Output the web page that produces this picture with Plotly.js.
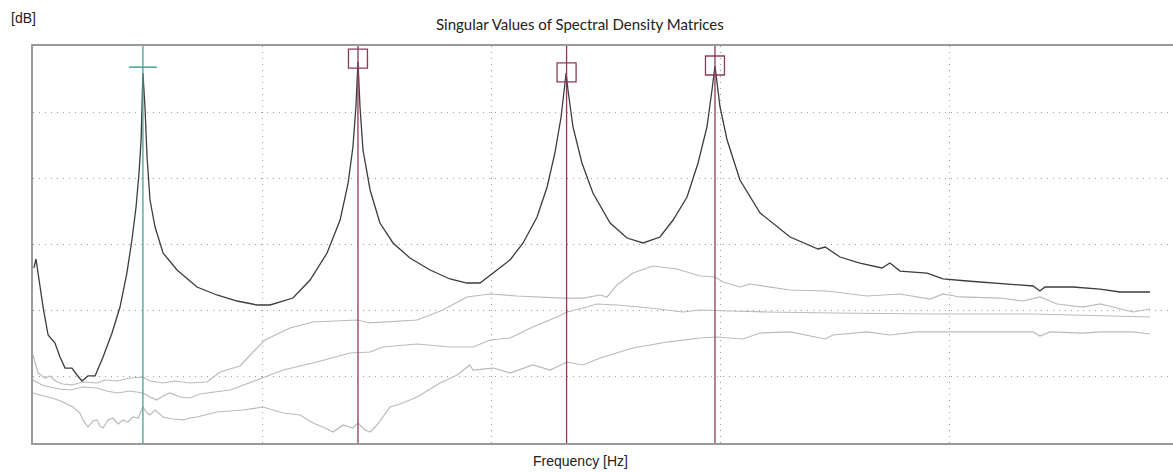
<!DOCTYPE html>
<html>
<head>
<meta charset="utf-8">
<script src="https://cdn.plot.ly/plotly-3.0.1.min.js"></script>
<style>html,body{margin:0;padding:0;background:#fff;}#chart{width:1173px;height:473px;}</style>
</head>
<body>
<div id="chart"></div>
<script>
// First singular value (dark curve)
const sv1Freq = [0.04,0.13,0.44,0.66,0.96,1.18,1.40,1.70,1.92,2.14,2.40,2.71,3.06,3.45,3.80,4.10,4.32,4.50,4.63,4.72,4.76,4.80,4.89,4.98,5.11,5.33,5.68,6.29,7.16,8.03,8.91,9.78,10.35,11.35,12.10,12.84,13.41,13.76,13.97,14.10,14.19,14.28,14.41,14.72,15.15,15.72,16.46,17.34,18.21,18.95,19.52,20.09,20.83,21.40,22.01,22.45,22.79,23.06,23.19,23.28,23.36,23.58,23.97,24.45,25.20,25.94,26.64,27.38,27.95,28.56,29.04,29.43,29.65,29.78,30.0,30.31,30.87,31.75,33.06,34.28,34.59,35.24,36.11,37.07,37.42,37.86,39.04,39.74,40.79,42.10,43.67,43.97,44.19,45.41,46.59,47.47,48.78];
const sv1dB = [26.45,27.81,20.55,16.32,15.11,13.0,11.33,11.33,10.28,9.37,10.13,10.13,13.0,16.62,20.55,25.69,30.68,35.67,40.80,45.79,50.78,55.92,50.78,43.22,36.72,32.64,28.71,26.15,23.58,22.37,21.46,20.86,20.86,21.91,24.63,28.71,33.70,39.29,44.73,50.78,57.58,50.78,44.28,38.24,33.25,30.23,27.96,26.15,24.79,24.18,24.18,25.69,27.66,30.23,34.16,38.69,43.83,49.27,53.35,55.92,53.35,47.76,42.32,37.78,33.25,30.98,30.23,31.13,33.70,37.18,42.32,47.76,53.35,56.98,50.78,45.79,39.75,34.76,31.13,29.32,29.62,28.11,27.20,26.45,27.20,25.99,25.69,24.79,24.48,24.18,23.73,22.97,23.58,23.58,23.27,22.82,22.82];

// Second singular value
const sv2Freq = [0,0.22,0.52,0.74,1.05,1.31,1.70,2.18,2.79,3.14,3.67,4.24,4.80,5.11,5.68,6.20,6.86,7.60,8.17,9.04,9.61,10.13,11.22,12.23,13.19,14.15,14.72,16.77,17.90,18.95,19.96,21.14,23.14,24.02,24.76,25.07,25.50,26.20,27.07,28.12,29.13,29.78,30.13,30.87,31.31,33.06,34.67,36.42,37.86,39.17,39.74,40.48,42.23,43.23,43.97,44.72,45.85,46.59,47.34,48.03,48.78];
const sv2dB = [13.30,10.58,9.82,10.13,9.22,8.92,8.77,9.22,9.07,9.52,9.37,9.82,9.97,9.37,9.07,9.37,9.07,9.22,10.73,11.64,13.75,15.57,17.38,18.29,18.44,18.59,18.14,18.59,20.10,22.07,22.52,22.22,21.91,21.91,22.37,22.07,23.88,25.69,26.75,26.30,25.24,25.09,24.33,23.58,24.03,23.12,22.97,22.22,22.52,21.76,22.52,22.07,21.91,21.46,22.07,21.01,20.55,21.01,20.40,19.80,20.25];

// Third singular value
const sv3Freq = [0,0.39,0.74,1.18,1.62,2.18,2.79,3.23,3.67,4.24,4.80,5.11,5.41,5.68,5.98,6.42,6.86,7.29,7.60,8.60,9.78,10.92,12.40,13.84,14.72,15.28,16.77,18.21,19.21,19.96,20.83,21.83,22.88,23.32,24.02,24.63,25.50,26.94,28.38,29.13,30.44,32.05,34.93,39.30,43.67,46.59,48.78];
const sv3dB = [9.52,8.77,8.46,8.16,8.01,8.46,8.31,7.86,7.56,7.86,7.56,6.95,6.50,7.10,7.56,6.95,6.80,7.41,7.56,8.01,9.52,11.03,12.24,13.60,13.75,14.51,14.96,14.51,14.51,15.57,15.87,17.53,19.04,19.80,20.40,21.01,20.86,20.40,19.80,20.10,19.95,19.80,19.65,19.50,19.50,19.19,19.04];

// Fourth singular value
const sv4Freq = [0,0.52,0.96,1.31,1.75,2.05,2.18,2.40,2.62,2.79,2.93,3.06,3.28,3.49,3.71,3.93,4.15,4.37,4.59,4.80,4.98,5.11,5.33,5.68,6.11,6.55,6.86,7.16,8.03,9.17,10.04,10.92,11.66,12.23,12.66,13.10,13.54,13.97,14.19,14.50,14.72,15.02,15.28,15.59,16.03,16.77,17.77,18.52,19.08,19.21,20.09,20.83,21.83,22.58,23.32,24.02,24.76,26.20,27.69,29.13,29.87,31.00,31.75,33.06,34.59,34.93,36.42,37.42,38.60,40.04,42.23,43.67,43.97,44.41,45.85,46.59,48.03,48.78];
const sv4dB = [7.56,7.10,6.65,6.20,5.44,4.53,3.48,2.42,3.32,3.48,2.57,2.27,3.48,3.78,2.87,3.48,3.17,3.93,3.78,5.44,4.53,4.23,4.99,3.93,3.63,3.48,3.78,3.93,4.69,4.99,5.44,4.53,4.23,3.02,2.42,1.66,2.72,2.27,3.02,1.96,1.66,2.72,3.93,5.44,5.89,6.95,9.07,10.28,11.79,11.03,11.33,10.58,11.79,11.03,12.24,11.79,12.85,14.36,15.26,15.87,16.02,15.72,16.62,16.78,15.72,16.32,16.78,16.32,16.78,16.78,16.78,16.78,16.17,16.78,16.62,16.78,16.78,16.47];

// Picked peaks
const cursorFreq = [4.80];
const cursorLevel = [56.8];
const peakFreq = [14.19, 23.30, 29.78];
const peakLevel = [58.1, 56.0, 57.05];

const titleText = 'Singular Values of Spectral Density Matrices';
const yUnit = '[dB]';
const xLabel = 'Frequency [Hz]';

const teal = '#4a9e9b';
const maroon = '#8c3a5c';
const lightGray = '#bababa';

const traces = [
  {x: sv4Freq, y: sv4dB, mode: 'lines', line: {color: lightGray, width: 1.2}, hoverinfo: 'skip'},
  {x: sv3Freq, y: sv3dB, mode: 'lines', line: {color: lightGray, width: 1.2}, hoverinfo: 'skip'},
  {x: sv2Freq, y: sv2dB, mode: 'lines', line: {color: lightGray, width: 1.2}, hoverinfo: 'skip'},
  {x: sv1Freq, y: sv1dB, mode: 'lines', line: {color: '#3c3c3c', width: 1.3}, hoverinfo: 'skip'},
  {x: cursorFreq, y: cursorLevel, mode: 'markers', marker: {symbol: 'line-ew-open', size: 20, color: teal, line: {color: teal, width: 1.5}}},
  {x: peakFreq, y: peakLevel, mode: 'markers', marker: {symbol: 'square-open', size: 19, color: maroon, line: {color: maroon, width: 1.3}}}
];

const shapes = [];
cursorFreq.forEach(f => shapes.push({type: 'line', xref: 'x', yref: 'paper', x0: f, x1: f, y0: 0, y1: 1, line: {color: teal, width: 1.3}, layer: 'above'}));
peakFreq.forEach(f => shapes.push({type: 'line', xref: 'x', yref: 'paper', x0: f, x1: f, y0: 0, y1: 1, line: {color: maroon, width: 1.3}, layer: 'above'}));

// plot area: x 33..1173 px, y 46..443 px
const PW = 1140, PH = 397;
const layout = {
  width: 1173, height: 473,
  margin: {l: 33, r: 0, t: 46, b: 30},
  paper_bgcolor: '#ffffff', plot_bgcolor: '#ffffff',
  showlegend: false,
  xaxis: {range: [0, 49.78], tick0: 0, dtick: 10, showticklabels: false, ticks: '',
          showgrid: true, gridcolor: '#9a9a9a', griddash: '1px,5px', gridwidth: 1,
          zeroline: false, showline: true, linecolor: '#9a9a9a', linewidth: 2, mirror: 'all'},
  yaxis: {range: [0, 60], tick0: 0, dtick: 10, showticklabels: false, ticks: '',
          showgrid: true, gridcolor: '#9a9a9a', griddash: '1px,5px', gridwidth: 1,
          zeroline: false, showline: true, linecolor: '#9a9a9a', linewidth: 2},
  shapes: shapes,
  annotations: [
    {text: titleText, xref: 'paper', yref: 'paper', x: (580-33)/PW, y: (443-24)/PH, xanchor: 'center', yanchor: 'middle',
     showarrow: false, font: {family: 'Lato, Open Sans, sans-serif', size: 15, color: '#222'}},
    {text: yUnit, xref: 'paper', yref: 'paper', x: (9-33)/PW, y: (443-18)/PH, xanchor: 'left', yanchor: 'middle',
     showarrow: false, font: {family: 'Liberation Sans, Arial, sans-serif', size: 14, color: '#222'}},
    {text: xLabel, xref: 'paper', yref: 'paper', x: (580-33)/PW, y: (443-461)/PH, xanchor: 'center', yanchor: 'middle',
     showarrow: false, font: {family: 'Liberation Sans, Arial, sans-serif', size: 14, color: '#222'}}
  ]
};

Plotly.newPlot('chart', traces, layout, {staticPlot: true, displayModeBar: false});
</script>
</body>
</html>
